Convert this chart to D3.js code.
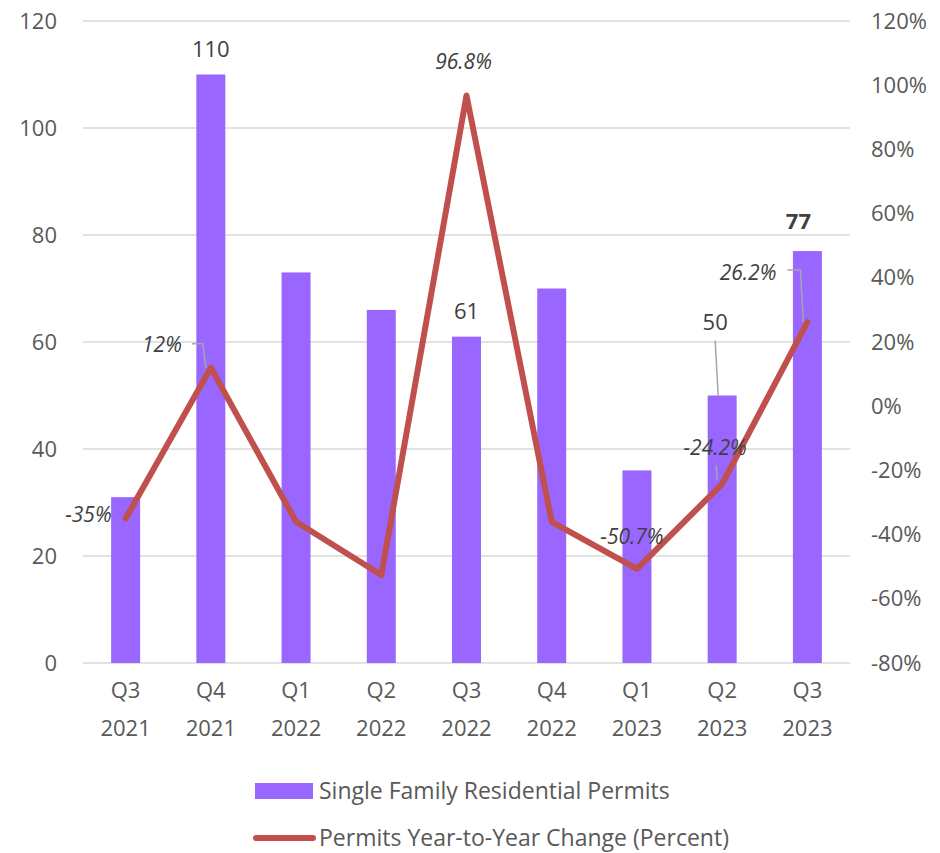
<!DOCTYPE html>
<html>
<head>
<meta charset="utf-8">
<script src="https://d3js.org/d3.v7.min.js"></script>
<style>
  body { margin: 0; background: #fff; }
  text { font-family: "Open Sans", sans-serif; fill: #595959; }
</style>
</head>
<body>
<div id="chart"></div>
<script>
// quarters (two-line tick labels)
var quarters = ["Q3", "Q4", "Q1", "Q2", "Q3", "Q4", "Q1", "Q2", "Q3"];
var years    = ["2021", "2021", "2022", "2022", "2022", "2022", "2023", "2023", "2023"];
// single family residential permits
var permits  = [31, 110, 73, 66, 61, 70, 36, 50, 77];
// year-to-year change, percent
var change   = [-35, 12, -36, -52.6, 96.8, -36, -50.7, -24.2, 26.2];
var leftTicks  = [0, 20, 40, 60, 80, 100, 120];
var rightTicks = [-80, -60, -40, -20, 0, 20, 40, 60, 80, 100, 120];

// which points carry labels, and where they sit relative to the mark
var barLabels = [
  {i: 1, dx: 0, dy: -27},
  {i: 4, dx: 0, dy: -27},
  {i: 7, dx: -7, dy: -75, leader: [[-7, -55], [-4, 0]]},
  {i: 8, dx: -9, dy: -31, bold: true}
];
var lineLabels = [
  {i: 0, dx: -14, dy: -5, anchor: "end"},
  {i: 1, dx: -29, dy: -24, anchor: "end", leader: [[-5, 0], [-8, -24], [-19, -24]]},
  {i: 4, dx: -3, dy: -34},
  {i: 6, dx: -5, dy: -33},
  {i: 7, dx: -7, dy: -37, leader: [[-6, -19], [-5, -4]]},
  {i: 8, dx: -31, dy: -50, anchor: "end", leader: [[-4, 0], [-7, -52], [-20, -52]]}
];

var W = 940, H = 853;
var mLeft = 83, mRight = 850, mTop = 21, mBottom = 663;

var svg = d3.select("#chart").append("svg")
  .attr("width", W).attr("height", H);

var x = d3.scaleBand().domain(d3.range(permits.length))
  .range([mLeft, mRight]).paddingInner(0.66).paddingOuter(0.33);
var y = d3.scaleLinear().domain([0, 120]).range([mBottom, mTop]);
var y2 = d3.scaleLinear().domain([-80, 120]).range([mBottom, mTop]);
var cx = function(i) { return x(i) + x.bandwidth() / 2; };

// gridlines
svg.append("g").selectAll("line").data(leftTicks).enter().append("line")
  .attr("x1", mLeft).attr("x2", mRight)
  .attr("y1", d => y(d)).attr("y2", d => y(d))
  .attr("stroke", "#d9d9d9").attr("stroke-width", 1.5);

// left axis
var yAxis = svg.append("g").attr("transform", "translate(" + mLeft + ",0)")
  .call(d3.axisLeft(y).tickValues(leftTicks).tickSize(0).tickPadding(26));
yAxis.select(".domain").remove();
yAxis.selectAll("text").style("font-size", "22px").attr("fill", "#595959");

// right axis
var yAxis2 = svg.append("g").attr("transform", "translate(" + mRight + ",0)")
  .call(d3.axisRight(y2).tickValues(rightTicks).tickSize(0).tickPadding(21)
    .tickFormat(d => d + "%"));
yAxis2.select(".domain").remove();
yAxis2.selectAll("text").style("font-size", "22px").attr("fill", "#595959");

// bars
svg.append("g").selectAll("rect").data(permits).enter().append("rect")
  .attr("x", (d, i) => x(i))
  .attr("width", x.bandwidth())
  .attr("y", d => y(d))
  .attr("height", d => y(0) - y(d))
  .attr("fill", "#9966ff");

// x labels
var xl = svg.append("g").selectAll("text").data(quarters).enter().append("text")
  .attr("x", (d, i) => cx(i))
  .attr("text-anchor", "middle")
  .style("font-size", "22px");
xl.append("tspan").attr("x", (d, i) => cx(i)).attr("y", 698).text(d => d);
xl.append("tspan").attr("x", (d, i) => cx(i)).attr("y", 736).text((d, i) => years[i]);

// line
var line = d3.line().x((d, i) => cx(i)).y(d => y2(d));
svg.append("path").datum(change)
  .attr("d", line)
  .attr("fill", "none")
  .attr("stroke", "#c0504d")
  .attr("stroke-width", 6)
  .attr("stroke-linejoin", "round")
  .attr("stroke-linecap", "round");

// leader lines
function leader(px, py, pts) {
  svg.append("polyline")
    .attr("points", pts.map(p => (px + p[0]) + "," + (py + p[1])).join(" "))
    .attr("fill", "none").attr("stroke", "#a6a6a6").attr("stroke-width", 1.5);
}

// bar labels
barLabels.forEach(function(b) {
  var px = cx(b.i), py = y(permits[b.i]);
  if (b.leader) leader(px, py, b.leader);
  svg.append("text")
    .attr("x", px + b.dx).attr("y", py + b.dy)
    .attr("text-anchor", "middle").attr("dominant-baseline", "central")
    .style("font-size", "22px")
    .style("font-weight", b.bold ? "bold" : "normal")
    .style("fill", "#404040")
    .text(permits[b.i]);
});

// line labels
lineLabels.forEach(function(l) {
  var px = cx(l.i), py = y2(change[l.i]);
  if (l.leader) leader(px, py, l.leader);
  svg.append("text")
    .attr("x", px + l.dx).attr("y", py + l.dy)
    .attr("text-anchor", l.anchor || "middle").attr("dominant-baseline", "central")
    .style("font-size", "21px").style("font-style", "italic")
    .style("fill", "#404040")
    .text(change[l.i] + "%");
});

// legend
var lg = svg.append("g");
lg.append("rect").attr("x", 255).attr("y", 783).attr("width", 58).attr("height", 16)
  .attr("fill", "#9966ff");
lg.append("text").attr("x", 319).attr("y", 799).style("font-size", "23px")
  .text("Single Family Residential Permits");
lg.append("line").attr("x1", 256).attr("x2", 313).attr("y1", 838).attr("y2", 838)
  .attr("stroke", "#c0504d").attr("stroke-width", 6).attr("stroke-linecap", "round");
lg.append("text").attr("x", 319).attr("y", 846).style("font-size", "23px")
  .text("Permits Year-to-Year Change (Percent)");
</script>
</body>
</html>
